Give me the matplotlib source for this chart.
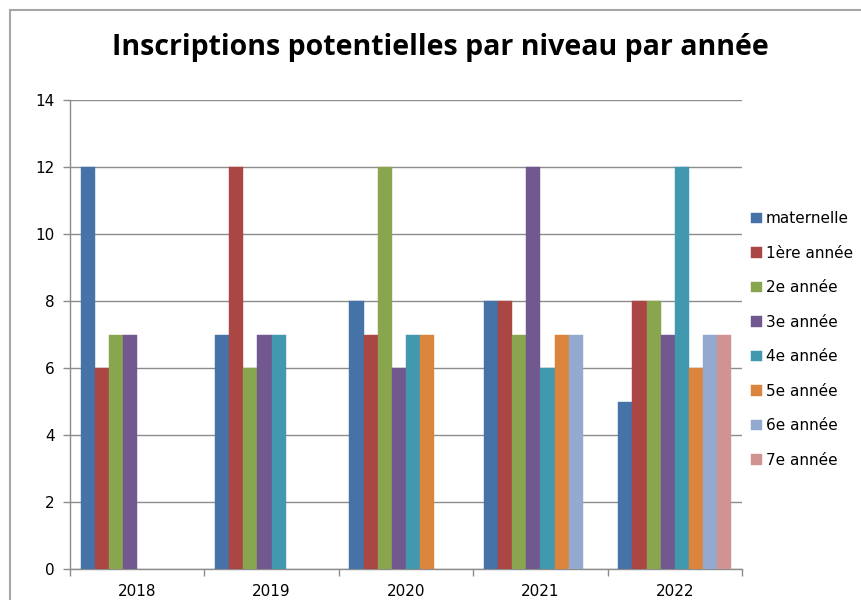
import matplotlib
matplotlib.use("Agg")
import matplotlib.pyplot as plt
import numpy as np
from matplotlib.lines import Line2D

years = ["2018", "2019", "2020", "2021", "2022"]
series = ["maternelle", "1ère année", "2e année", "3e année",
          "4e année", "5e année", "6e année", "7e année"]
maternelle = [12, 7, 8, 8, 5]
annee1 = [6, 12, 7, 8, 8]
annee2 = [7, 6, 12, 7, 8]
annee3 = [7, 7, 6, 12, 7]
annee4 = [0, 7, 7, 6, 12]
annee5 = [0, 0, 7, 7, 6]
annee6 = [0, 0, 0, 7, 7]
annee7 = [0, 0, 0, 0, 7]
values = [maternelle, annee1, annee2, annee3, annee4, annee5, annee6, annee7]
colors = ["#4572A7", "#AA4643", "#89A54E", "#71588F",
          "#4198AF", "#DB843D", "#93A9CF", "#D19392"]

fig = plt.figure(figsize=(8.61, 6.0), dpi=100)
ax = fig.add_axes([70/861, 1-569/600, (742-70)/861, (569-100)/600])

n = len(series)
gap = 1.5
bw = 1.0 / (n + gap)
x = np.arange(len(years))
for i, (name, vals, c) in enumerate(zip(series, values, colors)):
    pos = x - 0.5 + (gap/2)*bw + (i + 0.5)*bw
    h = np.array(vals, dtype=float)
    mask = h > 0
    ax.bar(pos[mask], h[mask], width=bw, color=c, edgecolor=c, linewidth=0.3,
           label=name, zorder=3)

ax.set_xlim(-0.5, len(years) - 0.5)
ax.set_ylim(0, 14)
ax.set_yticks(range(0, 15, 2))
ax.yaxis.grid(True, color="#8C8C8C", linewidth=1.0, zorder=0)
ax.set_axisbelow(True)
for s in ["top", "right"]:
    ax.spines[s].set_visible(False)
for s in ["left", "bottom"]:
    ax.spines[s].set_color("#8C8C8C")
    ax.spines[s].set_linewidth(1.0)
ax.set_xticks(x)
ax.set_xticklabels(years)
ax.set_xticks(np.arange(-0.5, len(years)), minor=True)
ax.tick_params(axis="x", which="major", length=0, pad=11, labelsize=11)
ax.tick_params(axis="x", which="minor", length=5, color="#8C8C8C", width=1)
ax.tick_params(axis="y", length=5, color="#8C8C8C", width=1, labelsize=11, pad=6)

fig.text(0.511, 1-47/600, "Inscriptions potentielles par niveau par année",
         ha="center", va="center", fontsize=20.5, fontweight="bold",
         family=["Open Sans", "DejaVu Sans"])

handles, labels = ax.get_legend_handles_labels()
leg = fig.legend(handles, labels, loc="upper left",
                 bbox_to_anchor=(745/861, 1-205/600), frameon=False,
                 fontsize=11, labelspacing=1.28, handlelength=0.68,
                 handleheight=0.68, handletextpad=0.3, borderaxespad=0)

# outer chart border
fig.add_artist(Line2D([10/861, 10/861], [0, 1-10/600], color="#A6A6A6",
                      linewidth=1.5, transform=fig.transFigure))
fig.add_artist(Line2D([10/861, 1], [1-10/600, 1-10/600], color="#A6A6A6",
                      linewidth=1.5, transform=fig.transFigure))

fig.savefig("out.png", dpi=100)
